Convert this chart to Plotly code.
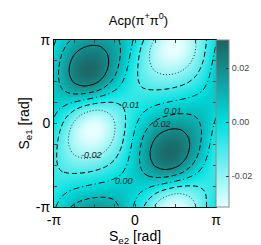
import numpy as np
import plotly.graph_objects as go

PI = np.pi

# Grid axes (radians): S_e2 along x, S_e1 along y, step pi/12
se2 = np.linspace(-PI, PI, 25)
se1 = np.linspace(-PI, PI, 25)

# Acp(pi+ pi0) values, in units of 1e-4;
# rows go from S_e1 = -pi (first) to S_e1 = +pi (last), columns from S_e2 = -pi to +pi
acp_e4 = [
    [-14, 39, 83, 118, 143, 159, 166, 162, 148, 123, 87, 41, -16, -81, -149, -214, -268, -303, -312, -295, -255, -200, -137, -74, -14],
    [-32, 10, 45, 73, 94, 109, 117, 119, 113, 99, 77, 45, 3, -47, -105, -165, -218, -255, -270, -259, -227, -182, -130, -79, -32],
    [-48, -19, 6, 27, 44, 57, 67, 73, 74, 70, 61, 45, 22, -9, -49, -93, -137, -172, -192, -192, -176, -148, -114, -80, -48],
    [-62, -47, -33, -19, -7, 5, 15, 24, 32, 38, 41, 42, 38, 30, 15, -7, -33, -61, -84, -99, -104, -100, -90, -77, -62],
    [-73, -73, -70, -64, -57, -48, -37, -25, -12, 3, 18, 35, 51, 65, 76, 81, 76, 60, 35, 6, -21, -44, -59, -69, -73],
    [-80, -96, -104, -108, -106, -100, -89, -75, -56, -34, -7, 24, 58, 94, 129, 156, 171, 167, 144, 105, 59, 14, -25, -57, -80],
    [-83, -114, -135, -148, -153, -150, -141, -124, -101, -71, -33, 11, 60, 113, 165, 209, 238, 244, 224, 182, 126, 66, 8, -42, -83],
    [-82, -127, -162, -185, -197, -199, -191, -172, -144, -107, -60, -4, 57, 122, 184, 237, 272, 284, 270, 231, 174, 107, 38, -26, -82],
    [-76, -134, -181, -215, -236, -244, -237, -218, -185, -140, -85, -21, 49, 120, 186, 240, 278, 293, 284, 251, 199, 134, 62, -9, -76],
    [-66, -134, -192, -237, -268, -282, -278, -257, -220, -169, -107, -37, 37, 108, 173, 225, 261, 278, 274, 249, 206, 148, 80, 7, -66],
    [-52, -125, -192, -247, -288, -308, -308, -287, -247, -191, -124, -51, 21, 90, 149, 197, 230, 247, 247, 230, 197, 149, 90, 21, -52],
    [-35, -107, -178, -241, -290, -318, -322, -302, -260, -202, -135, -64, 4, 66, 118, 160, 189, 206, 210, 200, 177, 140, 92, 33, -35],
    [-16, -81, -149, -214, -268, -303, -312, -295, -255, -200, -137, -74, -14, 39, 83, 118, 143, 159, 166, 162, 148, 123, 87, 41, -16],
    [3, -47, -105, -165, -218, -255, -270, -259, -227, -182, -130, -79, -32, 10, 45, 73, 94, 109, 117, 119, 113, 99, 77, 45, 3],
    [22, -9, -49, -93, -137, -172, -192, -192, -176, -148, -114, -80, -48, -19, 6, 27, 44, 57, 67, 73, 74, 70, 61, 45, 22],
    [38, 30, 15, -7, -33, -61, -84, -99, -104, -100, -90, -77, -62, -47, -33, -19, -7, 5, 15, 24, 32, 38, 41, 42, 38],
    [51, 65, 76, 81, 76, 60, 35, 6, -21, -44, -59, -69, -73, -73, -70, -64, -57, -48, -37, -25, -12, 3, 18, 35, 51],
    [58, 94, 129, 156, 171, 167, 144, 105, 59, 14, -25, -57, -80, -96, -104, -108, -106, -100, -89, -75, -56, -34, -7, 24, 58],
    [60, 113, 165, 209, 238, 244, 224, 182, 126, 66, 8, -42, -83, -114, -135, -148, -153, -150, -141, -124, -101, -71, -33, 11, 60],
    [57, 122, 184, 237, 272, 284, 270, 231, 174, 107, 38, -26, -82, -127, -162, -185, -197, -199, -191, -172, -144, -107, -60, -4, 57],
    [49, 120, 186, 240, 278, 293, 284, 251, 199, 134, 62, -9, -76, -134, -181, -215, -236, -244, -237, -218, -185, -140, -85, -21, 49],
    [37, 108, 173, 225, 261, 278, 274, 249, 206, 148, 80, 7, -66, -134, -192, -237, -268, -282, -278, -257, -220, -169, -107, -37, 37],
    [21, 90, 149, 197, 230, 247, 247, 230, 197, 149, 90, 21, -52, -125, -192, -247, -288, -308, -308, -287, -247, -191, -124, -51, 21],
    [4, 66, 118, 160, 189, 206, 210, 200, 177, 140, 92, 33, -35, -107, -178, -241, -290, -318, -322, -302, -260, -202, -135, -64, 4],
    [-14, 39, 83, 118, 143, 159, 166, 162, 148, 123, 87, 41, -16, -81, -149, -214, -268, -303, -312, -295, -255, -200, -137, -74, -14],
]
Z = np.array(acp_e4) / 1e4

# Contour levels and styles
levels = [0.02, 0.01, 0.0, -0.01, -0.02]
dashes = ["solid", "5px,3px", "6px,3px,1px,3px", "5px,3px", "1px,2px"]
colors = ["#000", "#000", "#000", "#000", "#333"]

# Contour labels (text and where they sit, in rad)
lab_text = ["-0.01", "0.01", "0.02", "-0.02", "0.00"]
lab_x = [-0.21, 1.49, 1.06, -1.70, -0.41]
lab_y = [0.70, 0.48, -0.03, -1.17, -2.16]

cbar_vals = [-0.02, 0.0, 0.02]
cbar_text = ["-0.02", "0.00", "0.02"]

fig = go.Figure()
fig.add_trace(go.Heatmap(
    x=se2, y=se1, z=Z, zsmooth="best", zmin=-0.0315, zmax=0.0305,
    colorscale=[[0, "#e8ffff"], [0.5, "#00e0e0"], [1, "#1d6262"]],
    hoverinfo="skip",
    colorbar=dict(x=1.003, xanchor="left", xpad=0, ypad=0, len=1, lenmode="fraction",
                  thickness=13, outlinewidth=1, outlinecolor="#888",
                  tickvals=cbar_vals, ticktext=cbar_text,
                  ticks="inside", ticklen=3, tickcolor="#333",
                  tickfont=dict(size=9, color="#444", family="Liberation Sans")),
))
for lv, ds, c in zip(levels, dashes, colors):
    fig.add_trace(go.Contour(
        x=se2, y=se1, z=Z, showscale=False, hoverinfo="skip",
        contours=dict(start=lv, end=lv, size=1, coloring="none"),
        line=dict(color=c, width=1, dash=ds, smoothing=1),
    ))

for t, lx, ly in zip(lab_text, lab_x, lab_y):
    fig.add_annotation(x=lx, y=ly, text=t, showarrow=False,
                       font=dict(size=9, color="#222", family="Liberation Sans", style="italic"))

tv = [-PI + k * PI / 4 for k in range(9)]
tt = ["-π", "", "", "", "0", "", "", "", "π"]
ax = dict(range=[-PI, PI], tickvals=tv, ticktext=tt, ticks="inside", ticklen=3,
          showline=True, linecolor="#000", linewidth=1, mirror="ticks", automargin=False,
          showgrid=False, zeroline=False, tickfont=dict(size=14, color="#000"))
fig.update_xaxes(**ax, title=dict(text="S<sub>e2</sub> [rad]", font=dict(size=14), standoff=4))
fig.update_yaxes(**ax, title=dict(text="S<sub>e1</sub> [rad]", font=dict(size=14), standoff=2))
fig.update_layout(
    width=261, height=245, margin=dict(l=46, r=48, t=32, b=46),
    paper_bgcolor="white", plot_bgcolor="white",
    font=dict(family="Liberation Sans", color="#000"),
    title=dict(text="Acp(π<sup>+</sup>π<sup>0</sup>)", x=0.5, xanchor="center", y=0.95,
               yanchor="middle", font=dict(size=13)),
    showlegend=False,
)
fig.write_html("out.html")
